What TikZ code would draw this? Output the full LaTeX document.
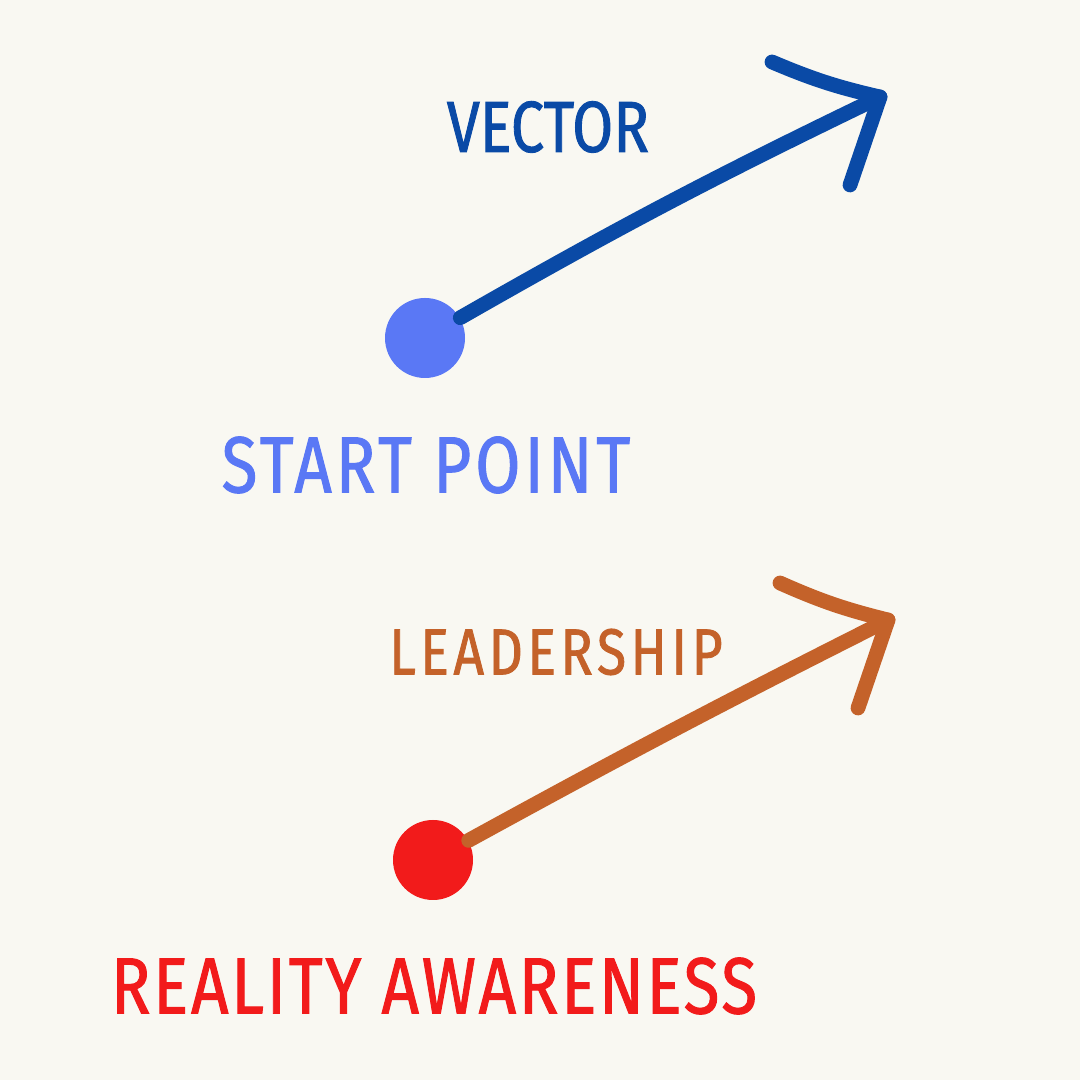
\documentclass[tikz,border=0pt]{standalone}
\usepackage{fontspec}
\newfontfamily\handfont[FakeStretch=0.82,FakeBold=1.2]{Fira Sans}
\definecolor{paper}{HTML}{F9F8F2}
\definecolor{vecblue}{HTML}{0A4AA6}
\definecolor{dotblue}{HTML}{5A78F5}
\definecolor{leadorange}{HTML}{C4622A}
\definecolor{dotred}{HTML}{F21B1B}
\begin{document}
\begin{tikzpicture}[
 dot/.style={circle,minimum size=0.8cm,inner sep=0pt},
 shaft/.style={line width=4.2pt,line cap=round,line join=round},
 label/.style={font=\handfont,inner sep=0pt}]
\fill[paper] (0,0) rectangle (10.8,10.8);
\useasboundingbox (0,0) rectangle (10.8,10.8);
% upper vector
\node[dot,fill=dotblue] (bdot) at (4.25,7.42) {};
\coordinate (btip) at (8.80,9.83);
\coordinate (barmA) at (7.72,10.18);
\coordinate (barmB) at (8.50,8.95);
\draw[shaft,vecblue] (bdot) to[bend left=2] (btip);
\draw[shaft,vecblue] (barmA) to[bend right=5] (btip) -- (barmB);
\node[label,text=vecblue,font=\handfont\fontsize{20.6}{24}\selectfont] (vec) at (5.48,9.53) {VECTOR};
\node[label,text=dotblue,font=\handfont\fontsize{22.7}{26}\selectfont\addfontfeature{LetterSpace=5}] (start) at (4.26,6.15) {START POINT};
% lower vector
\node[dot,fill=dotred] (rdot) at (4.33,2.20) {};
\coordinate (otip) at (8.88,4.60);
\coordinate (oarmA) at (7.80,4.97);
\coordinate (oarmB) at (8.58,3.72);
\draw[shaft,leadorange] (rdot) to[bend left=1] (otip);
\draw[shaft,leadorange] (oarmA) to[bend right=5] (otip) -- (oarmB);
\node[label,text=leadorange,font=\handfont\fontsize{18.5}{22}\selectfont\addfontfeature{LetterSpace=7}] (lead) at (5.56,4.28) {LEADERSHIP};
\node[label,text=dotred,font=\handfont\fontsize{22.7}{26}\selectfont\addfontfeature{LetterSpace=3.5}] (reality) at (4.34,0.94) {REALITY AWARENESS};
\end{tikzpicture}
\end{document}
